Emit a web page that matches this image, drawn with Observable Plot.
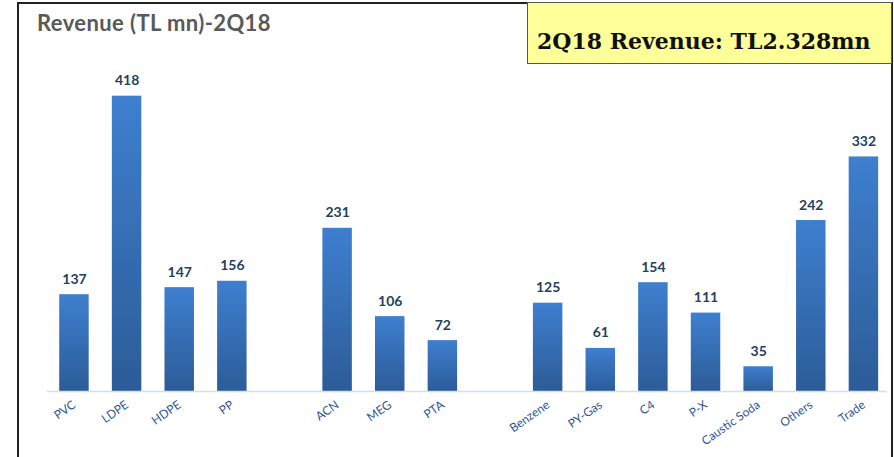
<!DOCTYPE html>
<html>
<head>
<meta charset="utf-8">
<script src="https://cdn.jsdelivr.net/npm/d3@7"></script>
<script src="https://cdn.jsdelivr.net/npm/@observablehq/plot@0.6"></script>
<style>
  html, body { margin: 0; padding: 0; background: #fff; }
  #wrap { position: relative; width: 894px; height: 457px; overflow: hidden; }
  #frame { position: absolute; left: 17px; top: 2px; width: 872px; height: 470px;
           border-left: 2px solid #222; border-top: 2px solid #222; border-right: 2px solid #222; }
  #title { position: absolute; left: 37px; top: 12px; font-family: Lato, "Open Sans", sans-serif;
           font-weight: 700; font-size: 22px; line-height: 22px; letter-spacing: 0.4px; color: #595959; white-space: nowrap; }
  #box { position: absolute; left: 527px; top: 2px; width: 363px; height: 60px; background: #ffff99;
         border: 1px solid #555; box-sizing: content-box; }
  #boxtext { position: absolute; left: 9px; top: 27px; font-family: "DejaVu Serif", "Liberation Serif", serif;
             font-weight: 700; font-size: 22px; line-height: 22px; color: #111; white-space: nowrap; }
  #chart { position: absolute; left: 0; top: 0; }
  #chart svg { font-family: Lato, "Open Sans", sans-serif; }
</style>
</head>
<body>
<div id="wrap">
  <div id="chart"></div>
  <div id="frame"></div>
  <div id="title">Revenue (TL mn)-2Q18</div>
  <div id="box"><div id="boxtext">2Q18 Revenue: TL2.328mn</div></div>
</div>
<script>
// Data
const categories = ["PVC", "LDPE", "HDPE", "PP", "ACN", "MEG", "PTA",
                    "Benzene", "PY-Gas", "C4", "P-X", "Caustic Soda", "Others", "Trade"];
const values = [137, 418, 147, 156, 231, 106, 72, 125, 61, 154, 111, 35, 242, 332];
// Axis order with two empty gap slots between product groups
const axisOrder = ["PVC", "LDPE", "HDPE", "PP", "gap1", "ACN", "MEG", "PTA", "gap2",
                   "Benzene", "PY-Gas", "C4", "P-X", "Caustic Soda", "Others", "Trade"];

const data = categories.map((c, i) => ({category: c, value: values[i]}));

const chart = Plot.plot({
  width: 894,
  height: 457,
  marginLeft: 47,
  marginRight: 7,
  marginTop: 66,
  marginBottom: 66,
  x: {type: "band", domain: axisOrder, paddingInner: 0.44, paddingOuter: 0.2, align: 0.58, round: false, axis: null},
  y: {domain: [0, 460], axis: null},
  marks: [
    Plot.barY(data, {x: "category", y: "value", fill: "url(#barGrad)"}),
    Plot.ruleY([0], {stroke: "#d3deea", strokeWidth: 1.5}),
    Plot.text(data, {x: "category", y: "value", text: d => String(d.value), dy: -11,
                     lineAnchor: "bottom", fontWeight: "bold", fontSize: 14, fill: "#243f60"}),
    Plot.axisX({tickRotate: -35, tickSize: 0, tickPadding: 12, fontSize: 12, label: null,
                tickFormat: d => d.startsWith("gap") ? "" : d, color: "#2f5597"})
  ]
});

const svg = d3.select(chart);
const defs = svg.insert("defs", ":first-child");
const grad = defs.append("linearGradient").attr("id", "barGrad")
  .attr("x1", 0).attr("y1", 0).attr("x2", 0).attr("y2", 1);
grad.append("stop").attr("offset", "0%").attr("stop-color", "#3e7fcf");
grad.append("stop").attr("offset", "100%").attr("stop-color", "#2c5c98");
svg.selectAll('[aria-label="x-axis tick label"] text').attr("fill", "#2f5597");

document.getElementById("chart").appendChild(chart);
</script>
</body>
</html>
